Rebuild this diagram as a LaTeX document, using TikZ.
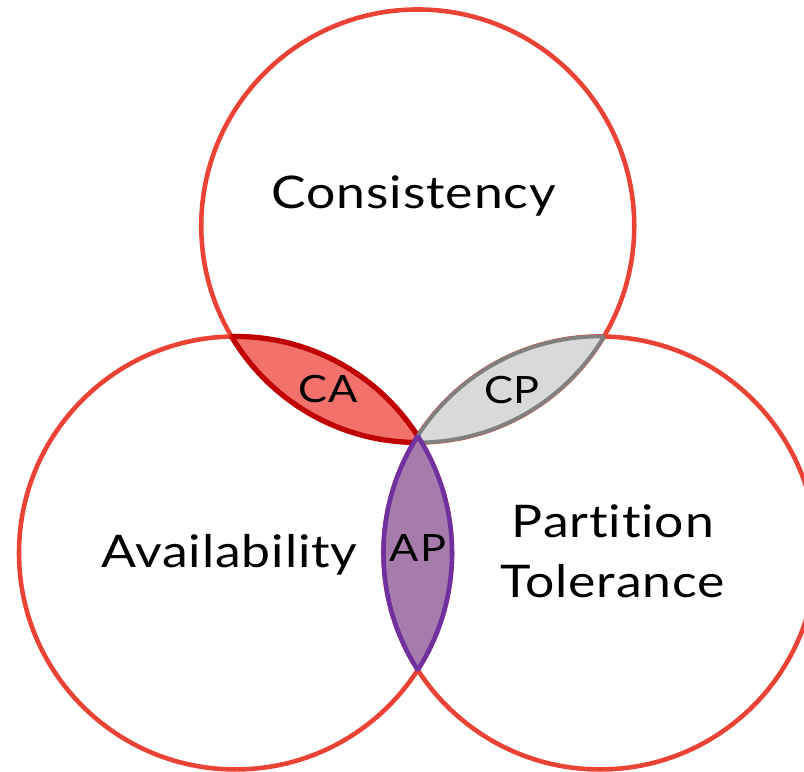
\documentclass[tikz,border=0pt]{standalone}
\usepackage{fontspec}
\setmainfont{Lato}[FakeStretch=1.15,LetterSpace=2,Ligatures=NoCommon]
\definecolor{ringred}{HTML}{EA4335}
\definecolor{cafill}{HTML}{F2716A}
\definecolor{caline}{HTML}{C00000}
\definecolor{cpfill}{HTML}{D9D9D9}
\definecolor{cpline}{HTML}{808080}
\definecolor{apfill}{HTML}{A87BAD}
\definecolor{apline}{HTML}{7030A0}
\tikzset{
	ring/.style={draw=ringred,line width=1.3pt},
	biglabel/.style={anchor=base,inner sep=0pt,font=\fontsize{12.8}{17}\selectfont},
	lenslabel/.style={anchor=base,inner sep=0pt,font=\fontsize{10.7}{12}\selectfont}
}

\begin{document}
\begin{tikzpicture}
	\useasboundingbox (0,0) rectangle (8.04,7.72);
	\def\r{2.165}
	\coordinate (C) at (4.1775,5.46);
	\coordinate (A) at (2.355,2.19);
	\coordinate (P) at (6.0,2.19);
	% the three sets
	\foreach \c in {C,A,P} {
		\draw[ring] (\c) circle (\r);
	}
	% pairwise overlaps
	\foreach \p/\q/\f/\l/\w in {C/A/cafill/caline/1.5pt, C/P/cpfill/cpline/1.1pt, A/P/apfill/apline/1.3pt} {
		\begin{scope}
			\clip (\p) circle (\r);
			\fill[\f] (\q) circle (\r);
			\draw[\l,line width=\w] (\q) circle (\r);
		\end{scope}
		\begin{scope}
			\clip (\q) circle (\r);
			\draw[\l,line width=\w] (\p) circle (\r);
		\end{scope}
	}
	\node[biglabel] (cons) at (4.14,5.63) {Consistency};
	\node[biglabel] (avail) at (2.295,2.04) {Availability};
	\node[biglabel] (part) at (6.13,2.34) {Partition};
	\node[biglabel] (tol) at (6.125,1.74) {Tolerance};
	\node[lenslabel] (ca) at (3.28,3.69) {CA};
	\node[lenslabel] (cp) at (5.12,3.68) {CP};
	\node[lenslabel] (ap) at (4.18,2.10) {AP};
\end{tikzpicture}
\end{document}
